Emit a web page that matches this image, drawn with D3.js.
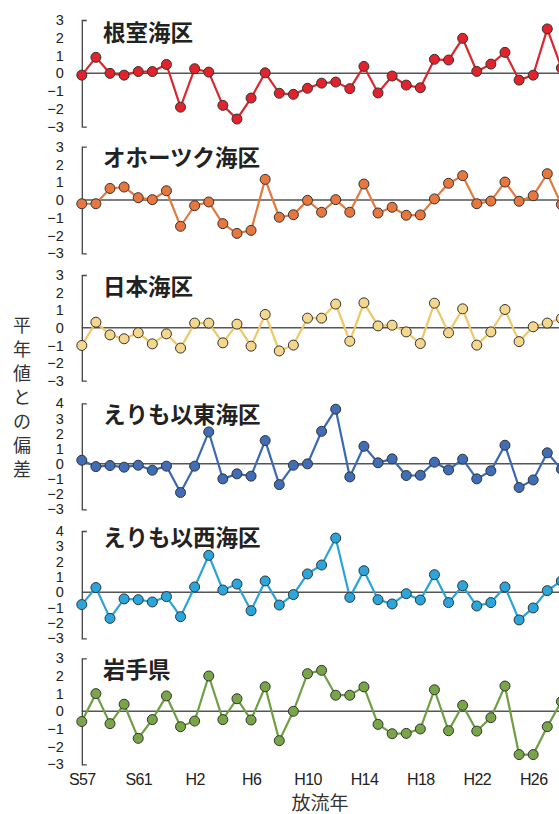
<!DOCTYPE html>
<html>
<head>
<meta charset="utf-8">
<script src="https://cdn.jsdelivr.net/npm/d3@7"></script>
<style>
  body { margin: 0; background: #fff; }
  svg { display: block; }
</style>
</head>
<body>
<div id="chart"></div>
<script>
// 放流年 (S57 = 1982 ... H28 = 2016)
const years = d3.range(1982, 2017);
const xTickYears = [1982, 1986, 1990, 1994, 1998, 2002, 2006, 2010, 2014];
const xTickLabels = ['S57', 'S61', 'H2', 'H6', 'H10', 'H14', 'H18', 'H22', 'H26'];

const nemuro = [-0.1, 0.9, 0.0, -0.1, 0.1, 0.1, 0.5, -1.9, 0.26, 0.07, -1.8, -2.57, -1.39, 0.03,
  -1.12, -1.18, -0.84, -0.55, -0.49, -0.86, 0.39, -1.1, -0.15, -0.66, -0.81, 0.79, 0.75, 1.97,
  0.11, 0.52, 1.18, -0.38, -0.1, 2.5, 0.3];
const okhotsk = [-0.21, -0.21, 0.65, 0.73, 0.13, 0.02, 0.52, -1.48, -0.32, -0.11, -1.33, -1.88, -1.71, 1.16,
  -0.97, -0.83, -0.02, -0.69, 0.02, -0.69, 0.9, -0.73, -0.41, -0.86, -0.84, 0.06, 0.94, 1.37,
  -0.21, -0.06, 1.01, -0.07, 0.24, 1.48, -0.26];
const nihonkai = [-1.0, 0.32, -0.4, -0.62, -0.28, -0.91, -0.34, -1.15, 0.27, 0.27, -0.85, 0.21, -1.04, 0.76,
  -1.31, -0.98, 0.55, 0.55, 1.35, -0.76, 1.42, 0.11, 0.15, -0.23, -0.89, 1.4, -0.28, 1.08,
  -0.98, -0.23, 1.04, -0.78, 0.06, 0.27, 0.53];
const erimoEast = [0.24, -0.18, -0.11, -0.22, -0.09, -0.42, -0.15, -1.89, -0.15, 2.11, -0.99, -0.66, -0.81, 1.54,
  -1.37, -0.09, 0.0, 2.15, 3.61, -0.86, 1.16, 0.07, 0.33, -0.77, -0.75, 0.11, -0.4, 0.31,
  -0.99, -0.46, 1.23, -1.56, -1.06, 0.73, -0.35];
const erimoWest = [-0.8, 0.31, -1.7, -0.43, -0.48, -0.63, -0.28, -1.59, 0.35, 2.41, 0.15, 0.54, -1.2, 0.74,
  -0.83, -0.15, 1.2, 1.78, 3.54, -0.33, 1.41, -0.48, -0.76, -0.09, -0.5, 1.15, -0.67, 0.43,
  -0.89, -0.67, 0.35, -1.8, -1.02, 0.11, 0.74];
const iwate = [-0.58, 1.0, -0.7, 0.4, -1.53, -0.47, 0.87, -0.87, -0.55, 2.0, -0.47, 0.71, -0.49, 1.39,
  -1.66, 0.0, 2.13, 2.32, 0.91, 0.91, 1.38, -0.74, -1.27, -1.25, -1.0, 1.22, -1.1, 0.34,
  -1.12, -0.36, 1.43, -2.45, -2.45, -0.87, 0.55];

const panelNames = ['根室海区', 'オホーツク海区', '日本海区', 'えりも以東海区', 'えりも以西海区', '岩手県'];
const panelSeries = [nemuro, okhotsk, nihonkai, erimoEast, erimoWest, iwate];
const panelDomains = [[-3, 3], [-3, 3], [-3, 3], [-3, 4], [-3, 4], [-3, 3]];

// layout / styling
const width = 559, height = 814;
const panelRanges = [[126.7, 20], [253.3, 146.7], [380.7, 275], [509.3, 403.3], [638.3, 531], [764.3, 658.3]];
const titleY = [41, 166, 295, 423, 546, 678];
const colors = [
  { fill: '#e3232b', line: '#d8282e' },
  { fill: '#e8773f', line: '#e27a3f' },
  { fill: '#f4d68c', line: '#efc866' },
  { fill: '#3f6db6', line: '#3b69b3' },
  { fill: '#29a7dc', line: '#2ba3d8' },
  { fill: '#78a547', line: '#6f9f42' }
];
const axisX = 81.8;

const svg = d3.select('#chart')
  .append('svg')
  .attr('width', width)
  .attr('height', height);

const x = d3.scalePoint()
  .domain(years)
  .range([axisX, 561.4]);

panelSeries.forEach((series, i) => {
  const y = d3.scaleLinear()
    .domain(panelDomains[i])
    .range(panelRanges[i]);

  const g = svg.append('g');

  // 0 line
  g.append('line')
    .attr('x1', axisX)
    .attr('x2', width)
    .attr('y1', y(0))
    .attr('y2', y(0))
    .attr('stroke', '#555')
    .attr('stroke-width', 1.5);

  // y axis, bracket shaped
  const yAxis = g.append('g')
    .attr('transform', 'translate(' + axisX + ',0)')
    .call(d3.axisLeft(y)
      .ticks(panelDomains[i][1] - panelDomains[i][0])
      .tickSizeInner(0)
      .tickSizeOuter(-5)
      .tickPadding(18));
  yAxis.select('.domain')
    .attr('stroke', '#444')
    .attr('stroke-width', 1.3);
  yAxis.selectAll('text')
    .attr('font-family', 'Liberation Sans, Arial, sans-serif')
    .attr('font-size', 14.5)
    .attr('fill', '#222');

  // title
  g.append('text')
    .attr('x', 103)
    .attr('y', titleY[i])
    .attr('font-family', 'Noto Sans CJK JP')
    .attr('font-weight', 'bold')
    .attr('font-size', 22.5)
    .attr('fill', '#222')
    .text(panelNames[i]);

  const line = d3.line()
    .x((d, k) => x(years[k]))
    .y(d => y(d));

  g.append('path')
    .datum(series)
    .attr('fill', 'none')
    .attr('stroke', colors[i].line)
    .attr('stroke-width', 2.2)
    .attr('d', line);

  g.selectAll('circle')
    .data(series)
    .enter().append('circle')
    .attr('cx', (d, k) => x(years[k]))
    .attr('cy', d => y(d))
    .attr('r', 5)
    .attr('fill', colors[i].fill)
    .attr('stroke', '#333')
    .attr('stroke-width', 1);
});

// x labels
const xAxis = svg.append('g')
  .attr('transform', 'translate(0,768)')
  .call(d3.axisBottom(x)
    .tickValues(xTickYears)
    .tickFormat((d, k) => xTickLabels[k])
    .tickSize(0)
    .tickPadding(6));
xAxis.select('.domain').remove();
xAxis.selectAll('text')
  .attr('font-family', 'Liberation Sans, Arial, sans-serif')
  .attr('font-size', 16)
  .attr('letter-spacing', -0.6)
  .attr('fill', '#222');

svg.append('text')
  .attr('x', 320)
  .attr('y', 810)
  .attr('text-anchor', 'middle')
  .attr('font-family', 'Noto Sans CJK JP')
  .attr('font-size', 19)
  .attr('fill', '#333')
  .text('放流年');

// y title, stacked vertically
const yTitle = '平年値との偏差'.split('');
svg.append('g')
  .selectAll('text')
  .data(yTitle)
  .enter().append('text')
  .attr('x', 22)
  .attr('y', (d, k) => 332 + k * 24)
  .attr('text-anchor', 'middle')
  .attr('font-family', 'Noto Sans CJK JP')
  .attr('font-size', 18)
  .attr('fill', '#333')
  .text(d => d);
</script>
</body>
</html>
